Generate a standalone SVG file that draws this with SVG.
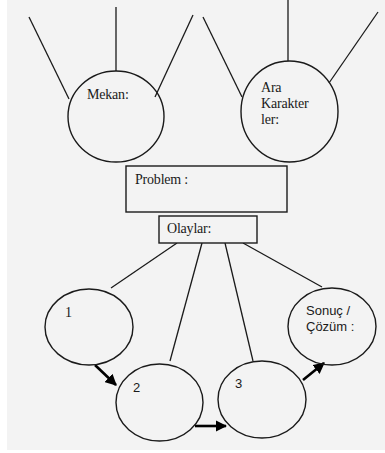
<svg xmlns="http://www.w3.org/2000/svg" width="385" height="453" viewBox="0 0 385 453">
  <defs>
    <style>
      .ln { stroke: #1a1a1a; stroke-width: 1.3; fill: none; }
      .shape { stroke: #1a1a1a; stroke-width: 1.4; fill: none; }
      .box { stroke: #1a1a1a; stroke-width: 1.4; fill: #f3f3f3; }
      .arr { stroke: #000; stroke-width: 2.6; fill: none; marker-end: url(#head); }
      .serif { font-family: "Liberation Serif", "Times New Roman", "DejaVu Serif", serif; font-size: 14px; fill: #1a1a1a; letter-spacing: -0.2px; }
      .sans { font-family: "Liberation Sans", Arial, sans-serif; font-size: 13px; fill: #1a1a1a; }
    </style>
    <marker id="head" viewBox="0 0 10 10" refX="9" refY="5" markerWidth="4.4" markerHeight="4.4" orient="auto" markerUnits="strokeWidth">
      <path d="M0,0 L10,5 L0,10 Z" fill="#000"/>
    </marker>
  </defs>

  <rect x="0" y="0" width="385" height="453" fill="#ffffff"/>
  <rect x="7" y="0" width="378" height="450" fill="#f3f3f3"/>

  <!-- connectors -->
  <g id="connectors">
    <!-- rays above Mekan -->
    <line class="ln" x1="29" y1="17" x2="69" y2="99"/>
    <line class="ln" x1="116" y1="7" x2="116" y2="71"/>
    <line class="ln" x1="193" y1="15" x2="155" y2="97"/>
    <!-- rays above Ara Karakterler -->
    <line class="ln" x1="203" y1="17" x2="242" y2="97"/>
    <line class="ln" x1="288" y1="0" x2="288" y2="61"/>
    <line class="ln" x1="378" y1="12" x2="329" y2="83"/>
    <!-- from Olaylar to the event circles -->
    <line class="ln" x1="177" y1="243" x2="111" y2="288"/>
    <line class="ln" x1="202" y1="243" x2="170" y2="361"/>
    <line class="ln" x1="225" y1="243" x2="253" y2="361"/>
    <line class="ln" x1="243" y1="243" x2="322" y2="287"/>
    <!-- sequence arrows -->
    <line class="arr" x1="95" y1="365" x2="116" y2="385"/>
    <line class="arr" x1="195" y1="426" x2="226" y2="426"/>
    <line class="arr" x1="303" y1="380" x2="324" y2="363"/>
  </g>

  <g id="mekan">
    <ellipse class="shape" cx="116" cy="116.5" rx="48" ry="45.5"/>
    <text class="serif" x="87" y="99">Mekan:</text>
  </g>

  <g id="ara-karakterler">
    <ellipse class="shape" cx="289.5" cy="111.5" rx="48.5" ry="50.5"/>
    <text class="serif" x="261" y="92">Ara</text>
    <text class="serif" x="261" y="108">Karakter</text>
    <text class="serif" x="261" y="124">ler:</text>
  </g>

  <g id="problem">
    <rect class="box" x="126" y="166" width="161" height="46"/>
    <text class="serif" x="135" y="184">Problem :</text>
  </g>

  <g id="olaylar">
    <rect class="box" x="159" y="216" width="98" height="27"/>
    <text class="serif" x="167" y="233">Olaylar:</text>
  </g>

  <g id="olay-1">
    <ellipse class="shape" cx="89" cy="327" rx="44" ry="38"/>
    <text class="serif" x="65" y="317">1</text>
  </g>

  <g id="olay-2">
    <ellipse class="shape" cx="159.5" cy="402.5" rx="43.5" ry="38.5"/>
    <text class="sans" x="133" y="392">2</text>
  </g>

  <g id="olay-3">
    <ellipse class="shape" cx="262" cy="399.5" rx="44" ry="38.5"/>
    <text class="sans" x="235" y="388">3</text>
  </g>

  <g id="sonuc">
    <ellipse class="shape" cx="332" cy="326.5" rx="44" ry="38.5"/>
    <text class="sans" x="306" y="315">Sonuç /</text>
    <text class="sans" x="306" y="331">Çözüm :</text>
  </g>
</svg>
